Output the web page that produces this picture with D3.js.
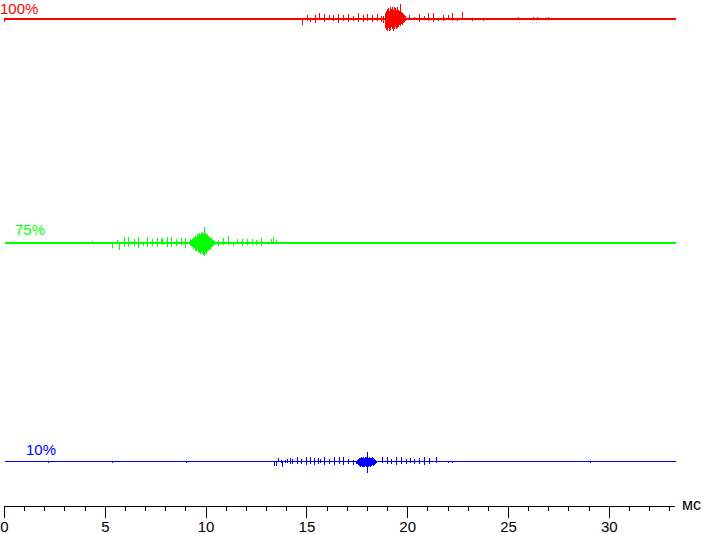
<!DOCTYPE html>
<html>
<head>
<meta charset="utf-8">
<script src="https://cdn.jsdelivr.net/npm/d3@7"></script>
<style>
  html, body { margin: 0; padding: 0; background: #fff; }
  svg { display: block; font-family: "Liberation Sans", Arial, sans-serif; }
</style>
</head>
<body>
<svg id="chart" width="703" height="534"></svg>
<script>
// ---- DATA (time in ms, amplitudes in arbitrary signal units) ----
const seriesNames = ["100%", "75%", "10%"];
const timeEnd = 33.3;
const majorTicks = [0, 5, 10, 15, 20, 25, 30];
const minorTicks = d3.range(0, 34);
const axisUnit = "мс";

// [time, up, down]
const redSpikes = [
  [14.57,0,1],[14.80,0,6],[15.04,4,2],[15.18,0,3],[15.43,4,4],[15.64,6,0],[15.89,5,3],
  [16.14,4,1],[16.33,4,2],[16.58,5,4],[16.83,4,2],[17.08,5,3],[17.30,3,2],[17.54,6,3],
  [17.79,4,3],[18.02,5,2],[18.27,4,3],[18.52,5,2],[18.69,3,3],[18.80,3,4],
  [20.10,4,1],[20.35,2,1],[20.58,5,3],[20.82,3,1],[21.05,6,2],[21.29,6,3],[21.54,1,2],
  [21.76,4,2],[22.01,4,1],[22.24,6,2],[22.49,1,2],[22.70,7,0]
];
const redBurst = [
  [18.90,6,9],[18.95,8,11],[19.00,10,12],[19.05,11,9],[19.10,8,12],[19.15,12,11],
  [19.20,10,8],[19.25,12,10],[19.30,9,12],[19.35,12,10],[19.40,11,8],[19.45,9,10],
  [19.50,12,9],[19.55,9,8],[19.60,8,6],[19.65,15,7],[19.70,7,5],[19.75,6,6],
  [19.80,5,4],[19.85,4,3],[19.90,3,2]
];
// [time, amplitude]
const redNoise = [
  [0,-3],[0.30,1],[0.69,1],[1.29,1],[1.44,1],[1.74,1],[2.28,1],[2.38,1],[2.88,1],[3.03,1],
  [3.37,1],[4.07,-1],[4.76,-1],[5.75,-1],[6.75,-1],[7.64,1],[7.99,1],[8.48,1],[9.13,1],
  [9.33,1],[9.97,1],[10.37,1],[10.81,1],[11.21,1],[11.61,1],[12.20,-1],[12.95,1],[13.69,-1],
  [14.29,1],[23.20,-2],[23.53,-1],[23.76,-2],[24.60,1],[25.50,2],[25.60,1],[26.24,2],
  [26.44,2],[26.98,2],[27.58,1],[28.22,1],[28.87,1],[29.41,1],[29.96,1],[30.20,1],
  [30.80,1],[31.55,1],[32.29,1],[32.94,1]
];

const greenSpikes = [
  [5.17,1,1],[5.34,0,5],[5.59,3,1],[5.70,0,7],[5.97,6,4],[6.17,6,4],[6.43,4,3],[6.63,6,5],
  [6.88,0,3],[7.11,6,4],[7.33,4,3],[7.57,5,4],[7.79,4,1],[7.85,5,2],[8.07,6,4],[8.28,6,4],
  [8.53,4,3],[8.78,5,2],[8.98,5,5],[9.23,4,3],
  [10.63,3,3],[10.88,5,2],[11.13,7,2],[11.34,1,3],[11.57,4,1],[11.82,4,3],[12.04,4,2],
  [12.29,4,2],[12.51,3,2],[12.75,5,3],[12.95,1,1],[13.23,4,1],[13.33,6,0],[13.49,3,1]
];
const greenBurst = [
  [9.28,3,3],[9.33,4,4],[9.38,5,6],[9.43,6,5],[9.48,7,8],[9.53,6,8],[9.58,9,7],[9.63,8,9],
  [9.68,10,10],[9.73,8,11],[9.78,10,9],[9.83,11,11],[9.88,9,12],[9.93,16,13],[9.98,10,10],
  [10.03,8,11],[10.08,9,8],[10.13,7,8],[10.18,6,6],[10.23,5,7],[10.28,5,4],[10.33,3,4],
  [10.38,3,2],[10.43,2,2]
];
const greenNoise = [
  [0.20,1],[0.79,1],[1.44,-1],[2.28,1],[3.08,-1],[3.77,1],[4.37,2],[4.76,-1],
  [14.19,-1],[14.78,-1],[16.17,-1],[16.91,1],[17.26,1],[17.96,1],[18.65,1],[19.39,1],
  [20.14,1],[20.88,1],[21.63,1],[22.37,1],[23.12,1],[23.86,1],[24.60,1],[25.35,1],
  [26.09,1],[26.84,1],[27.58,1],[28.32,1],[29.07,1],[29.66,-1],[30.56,1],[31.30,-1],
  [31.65,1],[32.69,-1],[33.13,-1]
];

const blueSpikes = [
  [12.78,1,0],[13.41,0,4],[13.47,0,4],[13.61,4,0],[13.73,2,1],[13.80,0,5],[13.94,2,1],
  [14.02,3,1],[14.19,4,2],[14.27,3,2],[14.52,5,2],[14.72,3,2],[14.97,5,3],[15.18,5,2],
  [15.39,4,3],[15.59,4,2],[15.67,3,1],[15.89,5,3],[16.14,3,2],[16.37,5,3],[16.62,5,2],
  [16.83,5,3],[17.08,3,2],[17.33,2,3],
  [18.74,5,1],[18.98,5,2],[19.20,3,2],[19.44,5,3],[19.68,5,2],[19.93,3,2],[20.14,4,1],
  [20.35,3,2],[20.60,4,2],[20.83,5,3],[21.10,4,2],[21.41,5,1],[21.91,1,0]
];
const blueBurst = [
  [17.46,1,2],[17.51,2,2],[17.56,3,3],[17.61,4,4],[17.66,4,5],[17.71,5,4],[17.76,4,5],
  [17.81,5,5],[17.86,4,5],[17.91,5,4],[17.96,5,5],[18.01,10,11],[18.06,4,5],[18.11,5,4],
  [18.16,4,5],[18.21,4,4],[18.26,5,3],[18.31,4,4],[18.36,3,3],[18.41,2,2],[18.46,1,1]
];
const blueNoise = [
  [1.54,1],[2.18,-1],[4.51,1],[5.36,-1],[6.99,1],[9.03,-1],[11.71,1],[22.04,-1],
  [22.22,-1],[22.62,1],[26.84,1],[29.07,-1],[30.95,1],[32.54,1]
];

// ---- LAYOUT / STYLE ----
const svg = d3.select("#chart");
const x = d3.scaleLinear().domain([0, 33.25]).range([4, 674.3]);

const traces = [
  { name: seriesNames[0], spikes: redSpikes, burst: redBurst, noise: redNoise,
    color: "#ff0000", base: 18.5, baseWidth: 2, lx: 0, ly: 13.7 },
  { name: seriesNames[1], spikes: greenSpikes, burst: greenBurst, noise: greenNoise,
    color: "#00ff00", base: 242.5, baseWidth: 2, lx: 15, ly: 235 },
  { name: seriesNames[2], spikes: blueSpikes, burst: blueBurst, noise: blueNoise,
    color: "#0000ff", base: 461.5, baseWidth: 1, lx: 26, ly: 455 }
];

function buildPoints(tr) {
  const ev = [];
  tr.spikes.forEach(([t,u,d]) => ev.push({t,u,d}));
  tr.burst.forEach(([t,u,d]) => ev.push({t,u,d}));
  tr.noise.forEach(([t,a]) => ev.push(a > 0 ? {t,u:a,d:0} : {t,u:0,d:-a}));
  ev.sort((a,b) => a.t - b.t);
  const pts = [[0,0]];
  ev.forEach(e => {
    pts.push([e.t,0]);
    if (e.u) pts.push([e.t,e.u]);
    if (e.d) pts.push([e.t,-e.d]);
    pts.push([e.t,0]);
  });
  pts.push([timeEnd,0]);
  return pts;
}

traces.forEach(tr => {
  const y = d3.scaleLinear().domain([-20, 20]).range([tr.base + 20, tr.base - 20]);
  const line = d3.line().x(d => Math.round(x(d[0])) + 0.5).y(d => y(d[1]));
  // zero level of the trace
  svg.append("path")
    .datum([[0,0],[timeEnd,0]])
    .attr("d", line)
    .attr("fill", "none")
    .attr("stroke", tr.color)
    .attr("stroke-width", tr.baseWidth)
    .attr("shape-rendering", "crispEdges");
  svg.append("path")
    .datum(buildPoints(tr))
    .attr("d", line)
    .attr("fill", "none")
    .attr("stroke", tr.color)
    .attr("stroke-width", 1)
    .attr("shape-rendering", "crispEdges");
  svg.append("text")
    .attr("x", tr.lx).attr("y", tr.ly)
    .attr("fill", tr.color)
    .attr("font-size", 15)
    .text(tr.name);
});

// ---- AXIS ----
const gMinor = svg.append("g").attr("transform", "translate(0,506)")
  .call(d3.axisBottom(x).tickValues(minorTicks).tickSize(5).tickSizeOuter(0).tickFormat(""));
const gMajor = svg.append("g").attr("transform", "translate(0,506)")
  .call(d3.axisBottom(x).tickValues(majorTicks).tickSize(12).tickSizeOuter(0).tickPadding(3));
gMajor.select(".domain").remove();
[gMinor, gMajor].forEach(g => {
  g.selectAll("path,line").attr("stroke", "#000").attr("shape-rendering", "crispEdges");
  g.selectAll("text").attr("fill", "#000").attr("font-size", 15)
    .attr("font-family", "\"Liberation Sans\", Arial, sans-serif");
});
svg.append("text")
  .attr("x", 682).attr("y", 510)
  .attr("font-size", 16)
  .attr("fill", "#000")
  .text(axisUnit);
</script>
</body>
</html>
